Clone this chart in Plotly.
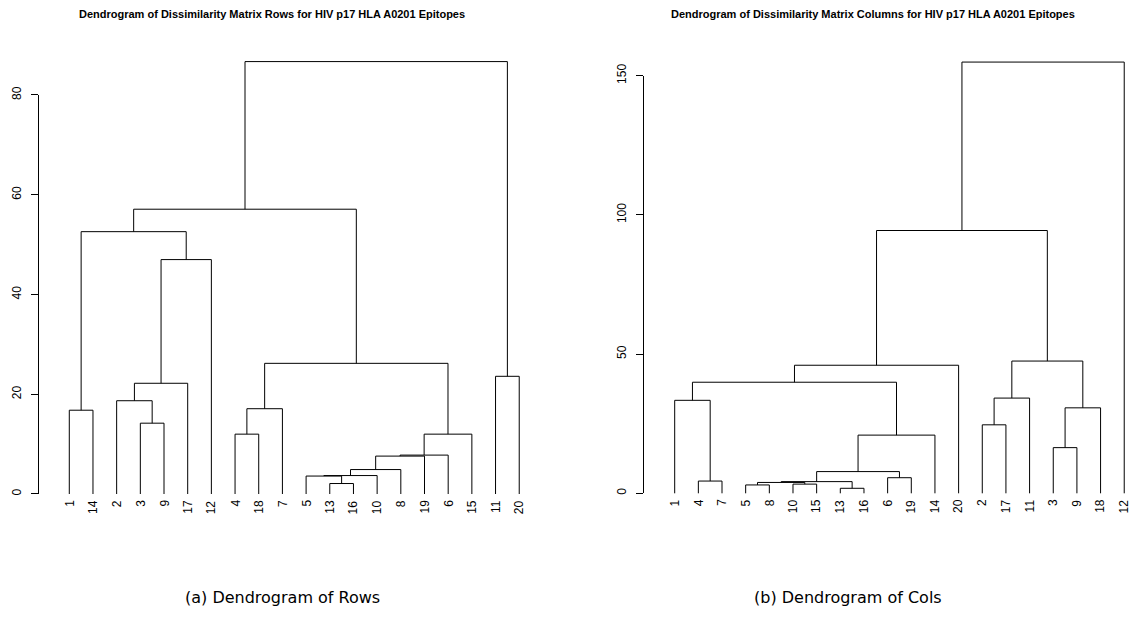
import plotly.graph_objects as go

# ---- data -----------------------------------------------------------------
# Leaf order along the x axis of each dendrogram
rows_order = [1, 14, 2, 3, 9, 17, 12, 4, 18, 7, 5, 13, 16, 10, 8, 19, 6, 15, 11, 20]
# Merge steps (hclust convention: negative = single epitope, positive = earlier merge, 1-based)
rows_merge = [(-13, -16), (-5, 1), (2, -10), (3, -8), (4, -19), (5, -6), (6, -15),
              (-4, -18), (-3, -9), (-1, -14), (8, -7), (-2, 9), (12, -17), (-11, -20),
              (11, 7), (13, -12), (10, 16), (17, 15), (18, 14)]
rows_height = [2.1, 3.6, 3.7, 4.9, 7.6, 7.8, 12.0, 12.0, 14.2, 16.8, 17.1, 18.7,
               22.2, 23.6, 26.2, 47.0, 52.6, 57.1, 86.7]

cols_order = [1, 4, 7, 5, 8, 10, 15, 13, 16, 6, 19, 14, 20, 2, 17, 11, 3, 9, 18, 12]
cols_merge = [(-13, -16), (-5, -8), (-10, -15), (2, 3), (4, 1), (-4, -7), (-6, -19),
              (5, 7), (-3, -9), (8, -14), (-2, -17), (9, -18), (-1, 6), (11, -11),
              (13, 10), (15, -20), (14, 12), (16, 17), (18, -12)]
cols_height = [1.8, 3.0, 3.3, 3.9, 4.2, 4.4, 5.6, 7.8, 16.4, 20.9, 24.6, 30.7,
               33.4, 34.2, 39.9, 46.0, 47.5, 94.4, 154.9]

rows_ticks = [0, 20, 40, 60, 80]
cols_ticks = [0, 50, 100, 150]

rows_title = "Dendrogram of Dissimilarity Matrix Rows for HIV p17 HLA A0201 Epitopes"
cols_title = "Dendrogram of Dissimilarity Matrix Columns for HIV p17 HLA A0201 Epitopes"
rows_caption = "(a) Dendrogram of Rows"
cols_caption = "(b) Dendrogram of Cols"


def dendro_segments(order, merge, height):
    """Build the bracket polyline of a dendrogram from its merge table."""
    pos = {leaf: i + 1 for i, leaf in enumerate(order)}
    nodes = []
    xs, ys = [], []

    def node(ref):
        if ref < 0:
            return pos[-ref], 0.0
        return nodes[ref - 1]

    for (a, b), h in zip(merge, height):
        xa, ha = node(a)
        xb, hb = node(b)
        xs += [xa, xa, xb, xb, None]
        ys += [ha, h, h, hb, None]
        nodes.append(((xa + xb) / 2.0, h))
    return xs, ys, pos


W, H = 1130, 628
FONT = "Liberation Sans, Arial, Helvetica, sans-serif"

# plot regions
ydom = [1 - 510.5 / H, 1 - 45 / H]
left_dom = [36 / W, 550 / W]
right_dom = [641 / W, 1.0]
left_xr = [-0.406, 21.30]
right_xr = [-0.424, 20.244]
left_yr = [-3.308, 90.025]
right_yr = [-6.178, 161.03]


def sub_domain(vals, yr):
    """Paper-fraction span of [min(vals), max(vals)] on an axis with range yr."""
    def f(v):
        return ydom[0] + (v - yr[0]) / (yr[1] - yr[0]) * (ydom[1] - ydom[0])
    return [f(min(vals)), f(max(vals))]


fig = go.Figure()
annotations = []

panels = [
    ("x", "y", "y3", rows_order, rows_merge, rows_height, rows_ticks, left_yr),
    ("x2", "y2", "y4", cols_order, cols_merge, cols_height, cols_ticks, right_yr),
]
for xa, ya, yax, order, merge, height, ticks, yr in panels:
    xs, ys, pos = dendro_segments(order, merge, height)
    fig.add_trace(go.Scatter(x=xs, y=ys, mode="lines", xaxis=xa, yaxis=ya,
                             line=dict(color="black", width=1), hoverinfo="skip",
                             showlegend=False))
    # invisible trace carrying the height axis
    fig.add_trace(go.Scatter(x=[1], y=[ticks[0]], mode="markers", xaxis=xa, yaxis=yax,
                             marker=dict(opacity=0), hoverinfo="skip", showlegend=False))
    for leaf in order:
        annotations.append(dict(x=pos[leaf], y=0, xref=xa, yref=ya, text=str(leaf),
                                textangle=-90, showarrow=False, xanchor="center",
                                yanchor="top", yshift=-4,
                                font=dict(family=FONT, size=12, color="black")))

hidden = dict(visible=False, showgrid=False, zeroline=False, automargin=False)
height_axis = dict(showline=True, linecolor="black", linewidth=1, ticks="outside",
                   ticklen=7, tickwidth=1, tickcolor="black", tickangle=-90,
                   showgrid=False, zeroline=False, anchor="free", side="left",
                   ticklabelstandoff=6, automargin=False,
                   tickfont=dict(family=FONT, size=12, color="black"))

fig.update_layout(
    template="none",
    width=W, height=H, margin=dict(l=0, r=0, t=0, b=0, pad=0), autosize=False,
    paper_bgcolor="white", plot_bgcolor="rgba(0,0,0,0)",
    xaxis=dict(domain=left_dom, range=left_xr, anchor="y", **hidden),
    yaxis=dict(domain=ydom, range=left_yr, anchor="x", **hidden),
    xaxis2=dict(domain=right_dom, range=right_xr, anchor="y2", **hidden),
    yaxis2=dict(domain=ydom, range=right_yr, anchor="x2", **hidden),
    yaxis3=dict(domain=sub_domain(rows_ticks, left_yr), range=[min(rows_ticks), max(rows_ticks)],
                tickvals=rows_ticks, position=38.3 / W, **height_axis),
    yaxis4=dict(domain=sub_domain(cols_ticks, right_yr), range=[min(cols_ticks), max(cols_ticks)],
                tickvals=cols_ticks, position=643.3 / W, **height_axis),
    showlegend=False,
)

annotations += [
    dict(x=272 / W, y=1 - 14 / H, xref="paper", yref="paper", text="<b>" + rows_title + "</b>",
         showarrow=False, xanchor="center", yanchor="middle",
         font=dict(family=FONT, size=11, color="black")),
    dict(x=873 / W, y=1 - 14 / H, xref="paper", yref="paper", text="<b>" + cols_title + "</b>",
         showarrow=False, xanchor="center", yanchor="middle",
         font=dict(family=FONT, size=11, color="black")),
    dict(x=282 / W, y=1 - 597 / H, xref="paper", yref="paper", text=rows_caption,
         showarrow=False, xanchor="center", yanchor="middle",
         font=dict(family="DejaVu Sans, sans-serif", size=16, color="black")),
    dict(x=848 / W, y=1 - 597 / H, xref="paper", yref="paper", text=cols_caption,
         showarrow=False, xanchor="center", yanchor="middle",
         font=dict(family="DejaVu Sans, sans-serif", size=16, color="black")),
]
fig.update_layout(annotations=annotations)

fig.write_html("out.html")
